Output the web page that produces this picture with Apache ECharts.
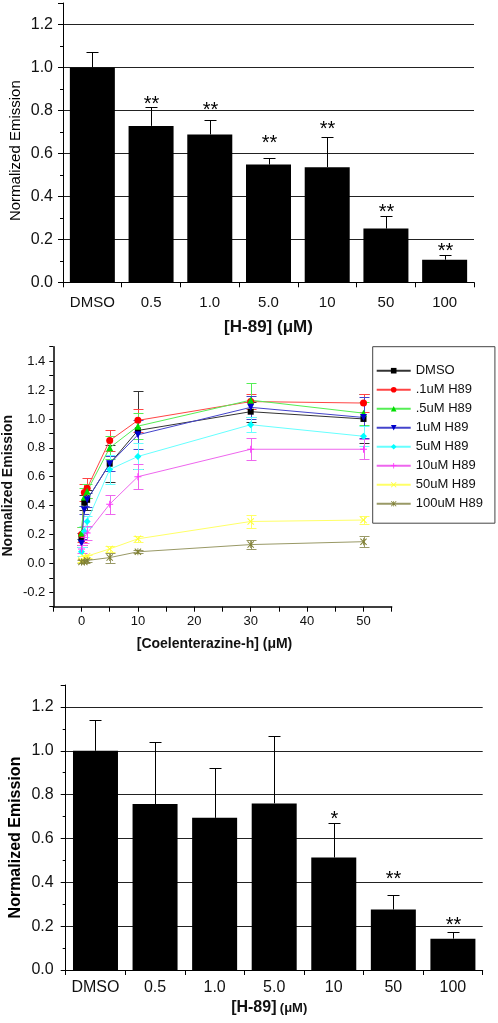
<!DOCTYPE html>
<html><head><meta charset="utf-8">
<script src="https://cdn.jsdelivr.net/npm/echarts@6/dist/echarts.min.js"></script>
<style>html,body{margin:0;padding:0;background:#fff}#c{width:498px;height:1023px}</style>
</head><body><div id="c"></div>
<script>
// ---------- data ----------
const barCats = ['DMSO', '0.5', '1.0', '5.0', '10', '50', '100'];
const barYTicks = [0, 0.2, 0.4, 0.6, 0.8, 1.0, 1.2];

const bar1Values = [1.0, 0.728, 0.688, 0.548, 0.536, 0.250, 0.105];
const bar1Errors = [0.074, 0.087, 0.069, 0.031, 0.139, 0.060, 0.021];
const bar1Stars  = ['', '**', '**', '**', '**', '**', '**'];
const bar1StarY  = [0, 0.849, 0.821, 0.671, 0.736, 0.349, 0.166];

const bar3Values = [1.0, 0.757, 0.694, 0.760, 0.513, 0.276, 0.143];
const bar3Errors = [0.142, 0.283, 0.227, 0.307, 0.157, 0.064, 0.032];
const bar3Stars  = ['', '', '', '', '*', '**', '**'];
const bar3StarY  = [0, 0, 0, 0, 0.708, 0.434, 0.228];

const concX = [0, 0.5, 1, 5, 10, 30, 50];
const lineXTicks = [0, 10, 20, 30, 40, 50];
const lineYTicks = [-0.2, 0, 0.2, 0.4, 0.6, 0.8, 1.0, 1.2, 1.4];
const lineNames = ['DMSO', '.1uM H89', '.5uM H89', '1uM H89', '5uM H89', '10uM H89', '50uM H89', '100uM H89'];

const dmsoVals  = [0.17, 0.42, 0.44, 0.69, 0.92, 1.05, 1.00];
const dmsoErr   = [0.04, 0.05, 0.07, 0.13, 0.27, 0.07, 0.17];
const h01Vals   = [0.20, 0.49, 0.52, 0.85, 0.99, 1.12, 1.11];
const h01Err    = [0.05, 0.06, 0.07, 0.07, 0.08, 0.05, 0.06];
const h05Vals   = [0.21, 0.46, 0.50, 0.80, 0.95, 1.13, 1.04];
const h05Err    = [0.04, 0.06, 0.05, 0.08, 0.09, 0.12, 0.08];
const h1Vals    = [0.14, 0.37, 0.44, 0.69, 0.89, 1.08, 1.01];
const h1Err     = [0.03, 0.03, 0.05, 0.05, 0.10, 0.08, 0.14];
const h5Vals    = [0.08, 0.22, 0.29, 0.65, 0.74, 0.96, 0.88];
const h5Err     = [0.03, 0.04, 0.04, 0.10, 0.09, 0.05, 0.07];
const h10Vals   = [0.10, 0.18, 0.21, 0.41, 0.60, 0.79, 0.79];
const h10Err    = [0.03, 0.04, 0.05, 0.065, 0.085, 0.075, 0.07];
const h50Vals   = [0.02, 0.04, 0.05, 0.10, 0.17, 0.29, 0.30];
const h50Err    = [0.01, 0.01, 0.01, 0.02, 0.02, 0.045, 0.03];
const h100Vals  = [0.01, 0.01, 0.02, 0.04, 0.08, 0.13, 0.15];
const h100Err   = [0.01, 0.01, 0.01, 0.035, 0.01, 0.03, 0.04];

// ---------- styles ----------
const FF = 'Liberation Sans, Arial, sans-serif';
const lineVals = [dmsoVals, h01Vals, h05Vals, h1Vals, h5Vals, h10Vals, h50Vals, h100Vals];
const lineErrs = [dmsoErr, h01Err, h05Err, h1Err, h5Err, h10Err, h50Err, h100Err];
const symColors = ['#000000', '#ff0000', '#00dd00', '#0000cc', '#00ffff', '#ff33ff', '#ffff33', '#808033'];
const lnColors  = ['#333333', '#ff4444', '#55ee55', '#4444cc', '#66ffff', '#ee66ee', '#ffff66', '#999966'];
const symbols = [
  'rect', 'circle', 'triangle',
  'path://M0,0L10,0L5,9Z',
  'diamond',
  'path://M4.3,0H5.7V4.3H10V5.7H5.7V10H4.3V5.7H0V4.3H4.3Z',
  'path://M0,1L1,0L5,4L9,0L10,1L6,5L10,9L9,10L5,6L1,10L0,9L4,5Z',
  'path://M0,1L1,0L5,4L9,0L10,1L6,5L10,9L9,10L5,6L1,10L0,9L4,5ZM4.4,0H5.6V10H4.4Z'
];
const symSizes = [6, 7, 7, 7, 7, 7, 7, 7];

function barErrRender(errs, stars, starY) {
  return function (params, api) {
    const i = api.value(0), v = api.value(1), e = api.value(2);
    const p0 = api.coord([i, v]);
    const p1 = api.coord([i, v + e]);
    const x = Math.round(p0[0]) + 0.5;
    const y1 = Math.round(p1[1]) + 0.5;
    const children = [
      { type: 'line', shape: { x1: x, y1: p0[1], x2: x, y2: y1 }, style: { stroke: '#000', lineWidth: 1 } },
      { type: 'line', shape: { x1: x - 6, y1: y1, x2: x + 6, y2: y1 }, style: { stroke: '#000', lineWidth: 1 } }
    ];
    const s = stars[params.dataIndex];
    if (s) {
      const ps = api.coord([i, starY[params.dataIndex]]);
      children.push({ type: 'text', x: x, y: ps[1] + 5,
        style: { text: s, fontSize: 20, fontFamily: FF, fill: '#000', align: 'center', verticalAlign: 'middle' } });
    }
    return { type: 'group', children: children };
  };
}

function lineErrRender(color) {
  return function (params, api) {
    const xv = api.value(0), v = api.value(1), e = api.value(2);
    const pt = api.coord([xv, v + e]);
    const pb = api.coord([xv, v - e]);
    const x = Math.round(pt[0]) + 0.5;
    const yt = Math.round(pt[1]) + 0.5, yb = Math.round(pb[1]) + 0.5;
    const st = { stroke: color, lineWidth: 1 };
    return { type: 'group', children: [
      { type: 'line', shape: { x1: x, y1: yt, x2: x, y2: yb }, style: st },
      { type: 'line', shape: { x1: x - 5, y1: yt, x2: x + 5, y2: yt }, style: st },
      { type: 'line', shape: { x1: x - 5, y1: yb, x2: x + 5, y2: yb }, style: st }
    ] };
  };
}

function barYAxis(gi, nameStyle, labelMargin, nameGap) {
  return {
    type: 'value', gridIndex: gi, min: 0, max: 1.3, interval: 0.2,
    name: 'Normalized Emission', nameLocation: 'middle', nameGap: nameGap, nameMoveOverlap: false,
    nameTextStyle: Object.assign({ color: '#000', fontFamily: FF }, nameStyle),
    axisLine: { show: true, lineStyle: { color: '#000', width: 1 } },
    axisTick: { show: true, length: 5, lineStyle: { color: '#000' } },
    minorTick: { show: true, splitNumber: 2, length: 3, lineStyle: { color: '#000' } },
    axisLabel: { fontSize: 16, fontFamily: FF, color: '#111', margin: labelMargin, showMaxLabel: false,
      formatter: v => barYTicks.some(t => Math.abs(t - v) < 1e-6) ? v.toFixed(1) : '' },
    splitLine: { show: true, showMaxLine: false, showMinLine: false, lineStyle: { color: '#222', width: 1 } }
  };
}

function barXAxis(gi, labelSize, labelMargin, nameCfg) {
  return Object.assign({
    type: 'category', gridIndex: gi, data: barCats,
    axisLine: { show: true, lineStyle: { color: '#000', width: 1 } },
    axisTick: { show: true, alignWithLabel: false, length: 5, lineStyle: { color: '#000' } },
    axisLabel: { fontSize: labelSize, fontFamily: FF, color: '#111', margin: labelMargin, interval: 0 },
    nameLocation: 'middle', nameMoveOverlap: false
  }, nameCfg);
}

const lineSeries = [];
const errSeries = [];
lineNames.forEach((n, k) => {
  lineSeries.push({
    type: 'line', name: n, xAxisIndex: 1, yAxisIndex: 1,
    data: concX.map((x, j) => [x, lineVals[k][j]]),
    symbol: symbols[k], symbolSize: symSizes[k], showSymbol: true,
    itemStyle: { color: symColors[k] },
    lineStyle: { color: lnColors[k], width: 1 },
    z: 3
  });
  errSeries.push({
    type: 'custom', xAxisIndex: 1, yAxisIndex: 1,
    data: concX.map((x, j) => [x, lineVals[k][j], lineErrs[k][j]]),
    encode: { x: 0, y: 1 },
    renderItem: lineErrRender(lnColors[k]),
    z: 2, silent: true
  });
});

const option = {
  animation: false,
  backgroundColor: '#fff',
  grid: [
    { left: 63, right: 24, top: 3, bottom: 740.7, outerBoundsMode: 'none', containLabel: false },
    { left: 53.3, right: 106.3, top: 346.7, bottom: 416.3, outerBoundsMode: 'none', containLabel: false },
    { left: 65.7, right: 15.3, top: 685, bottom: 53, outerBoundsMode: 'none', containLabel: false }
  ],
  legend: {
    orient: 'vertical', left: 372.7, top: 346.7,
    data: lineNames,
    itemWidth: 34, itemHeight: 7, itemGap: 6,
    padding: [17.5, 12, 13, 3],
    borderColor: '#444', borderWidth: 1, backgroundColor: '#fff',
    textStyle: { fontSize: 13, fontFamily: FF, color: '#111' }
  },
  xAxis: [
    barXAxis(0, 15, 13, { name: '[H-89] (μM)', nameGap: 37,
      nameTextStyle: { fontSize: 17, fontWeight: 'bold', fontFamily: FF, color: '#111' } }),
    {
      type: 'value', gridIndex: 1, min: -5, max: 55, interval: 5,
      name: '[Coelenterazine-h] (μM)', nameLocation: 'middle', nameGap: 30, nameMoveOverlap: false,
      nameTextStyle: { fontSize: 14, fontWeight: 'bold', fontFamily: FF, color: '#111', padding: [0, 16, 0, 0] },
      axisLine: { show: true, onZero: false, lineStyle: { color: '#000', width: 1.5 } },
      axisTick: { show: true, length: 5, lineStyle: { color: '#000' } },
      axisLabel: { fontSize: 13, fontFamily: FF, color: '#111', margin: 8,
        formatter: v => lineXTicks.some(t => Math.abs(t - v) < 1e-6) ? String(v) : '' },
      splitLine: { show: false }
    },
    barXAxis(2, 16, 10, { name: '{a|[H-89]} {b|(μM)}', nameGap: 30,
      nameTextStyle: { fontFamily: FF, color: '#111', padding: [0, 10, 0, 0],
        rich: { a: { fontSize: 16, fontWeight: 'bold', fontFamily: FF, color: '#111' },
                b: { fontSize: 13, fontWeight: 'bold', fontFamily: FF, color: '#111' } } } })
  ],
  yAxis: [
    barYAxis(0, { fontSize: 15, padding: [0, 16, 0, 0] }, 10, 40),
    {
      type: 'value', gridIndex: 1, min: -0.3, max: 1.5, interval: 0.1,
      name: 'Normalized Emission', nameLocation: 'middle', nameGap: 38, nameMoveOverlap: false,
      nameTextStyle: { fontSize: 14, fontWeight: 'bold', fontFamily: FF, color: '#111', padding: [0, 18, 0, 0] },
      axisLine: { show: true, onZero: false, lineStyle: { color: '#000', width: 1.5 } },
      axisTick: { show: true, length: 4, lineStyle: { color: '#000' } },
      axisLabel: { fontSize: 13, fontFamily: FF, color: '#111', margin: 8,
        formatter: v => lineYTicks.some(t => Math.abs(t - v) < 1e-6) ? v.toFixed(1) : '' },
      splitLine: { show: false }
    },
    barYAxis(2, { fontSize: 16, fontWeight: 'bold', padding: [0, 20, 0, 0] }, 12, 42)
  ],
  series: [
    { type: 'bar', xAxisIndex: 0, yAxisIndex: 0, data: bar1Values, barWidth: 45,
      itemStyle: { color: '#000' }, z: 2 },
    { type: 'custom', xAxisIndex: 0, yAxisIndex: 0,
      data: barCats.map((c, i) => [i, bar1Values[i], bar1Errors[i]]),
      encode: { x: 0, y: 1 }, renderItem: barErrRender(bar1Errors, bar1Stars, bar1StarY), z: 3 },
    { type: 'bar', xAxisIndex: 2, yAxisIndex: 2, data: bar3Values, barWidth: 45,
      itemStyle: { color: '#000' }, z: 2 },
    { type: 'custom', xAxisIndex: 2, yAxisIndex: 2,
      data: barCats.map((c, i) => [i, bar3Values[i], bar3Errors[i]]),
      encode: { x: 0, y: 1 }, renderItem: barErrRender(bar3Errors, bar3Stars, bar3StarY), z: 3 }
  ].concat(errSeries, lineSeries)
};

const chart = echarts.init(document.getElementById('c'), null, { renderer: 'canvas' });
chart.setOption(option);
</script></body></html>
